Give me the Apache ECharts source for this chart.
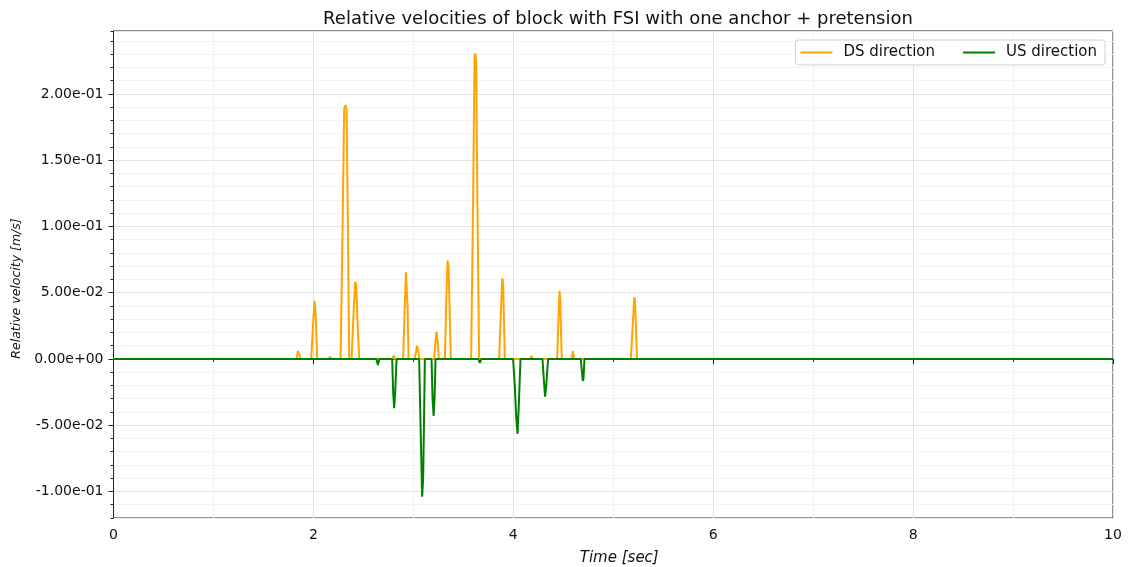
<!DOCTYPE html>
<html>
<head>
<meta charset="utf-8">
<script src="https://cdn.jsdelivr.net/npm/echarts@6/dist/echarts.min.js"></script>
<style>
  html, body { margin: 0; padding: 0; background: #fff; }
  #chart { width: 1131px; height: 567px; }
</style>
</head>
<body>
<div id="chart"></div>
<script>
// Relative velocity samples [time (s), velocity (m/s)], downstream direction
const dsDirection = [
  [0, 0],
  [1.832, 0], [1.845, 0.006], [1.852, 0.0075], [1.862, 0.005], [1.875, 0],
  [1.978, 0], [1.998, 0.028], [2.012, 0.0438], [2.022, 0.034], [2.038, 0],
  [2.155, 0], [2.165, 0.0017], [2.175, 0],
  [2.272, 0], [2.292, 0.10], [2.308, 0.189], [2.32, 0.1917], [2.332, 0.188], [2.345, 0.10], [2.358, 0],
  [2.382, 0], [2.402, 0.035], [2.418, 0.0583], [2.428, 0.056], [2.44, 0.03], [2.458, 0],
  [2.79, 0], [2.802, 0.0025], [2.815, 0],
  [2.898, 0], [2.914, 0.04], [2.926, 0.0654], [2.934, 0.064], [2.942, 0.04], [2.952, 0],
  [3.015, 0], [3.03, 0.007], [3.038, 0.010], [3.046, 0.007], [3.062, 0],
  [3.208, 0], [3.222, 0.014], [3.232, 0.0206], [3.242, 0.014], [3.255, 0],
  [3.315, 0], [3.33, 0.045], [3.342, 0.0742], [3.352, 0.07], [3.362, 0.04], [3.375, 0],
  [3.578, 0], [3.598, 0.12], [3.612, 0.228], [3.62, 0.2307], [3.628, 0.225], [3.642, 0.11], [3.658, 0],
  [3.858, 0], [3.876, 0.035], [3.89, 0.0609], [3.898, 0.058], [3.905, 0.035], [3.915, 0],
  [4.17, 0], [4.182, 0.0023], [4.195, 0],
  [4.438, 0], [4.452, 0.03], [4.462, 0.0515], [4.47, 0.045], [4.476, 0.025], [4.485, 0],
  [4.585, 0], [4.594, 0.006], [4.6, 0.0068], [4.606, 0.005], [4.612, 0],
  [5.175, 0], [5.195, 0.025], [5.21, 0.0466], [5.218, 0.044], [5.226, 0.025], [5.238, 0],
  [10, 0]
];

// Relative velocity samples [time (s), velocity (m/s)], upstream direction
const usDirection = [
  [0, 0],
  [2.63, 0], [2.645, -0.0045], [2.66, 0],
  [2.788, 0], [2.798, -0.025], [2.808, -0.0372], [2.818, -0.025], [2.832, 0],
  [3.058, 0], [3.072, -0.05], [3.088, -0.1039], [3.098, -0.09], [3.108, -0.04], [3.115, 0],
  [3.182, 0], [3.192, -0.03], [3.203, -0.043], [3.212, -0.03], [3.222, 0],
  [3.65, 0], [3.665, -0.003], [3.68, 0],
  [3.998, 0], [4.015, -0.02], [4.03, -0.045], [4.042, -0.0566], [4.055, -0.035], [4.072, 0],
  [4.292, 0], [4.305, -0.015], [4.318, -0.0285], [4.33, -0.02], [4.348, 0],
  [4.675, 0], [4.687, -0.01], [4.695, -0.0166], [4.702, -0.015], [4.712, 0],
  [10, 0]
];

// Labelled y ticks
const yMajorTicks = [-0.1, -0.05, 0, 0.05, 0.1, 0.15, 0.2];
const xLimits = [0, 10];
const yLimits = [-0.12, 0.2475];

function sciLabel(v) {
  const s = Number(v).toExponential(2);
  const parts = s.split('e');
  let exp = parseInt(parts[1], 10);
  const sign = exp < 0 ? '-' : '+';
  exp = Math.abs(exp);
  return parts[0] + 'e' + sign + (exp < 10 ? '0' + exp : String(exp));
}

const FONT = 'DejaVu Sans';
const MAJOR_GRID = '#e3e3e3';
const MINOR_GRID = '#f3f3f3';
const FRAME = '#222';

const chart = echarts.init(document.getElementById('chart'), null, { renderer: 'canvas' });

chart.setOption({
  animation: false,
  backgroundColor: '#fff',
  title: {
    text: 'Relative velocities of block with FSI with one anchor + pretension',
    left: 613,
    textAlign: 'center',
    top: 5,
    textStyle: { fontFamily: FONT, fontSize: 18, fontWeight: 'normal', color: '#111' }
  },
  legend: {
    right: 26,
    top: 40,
    orient: 'horizontal',
    backgroundColor: '#fff',
    borderColor: '#d0d0d0',
    borderWidth: 1,
    borderRadius: 3,
    padding: [5, 8, 5, 5],
    itemWidth: 32,
    itemHeight: 2,
    itemGap: 28,
    textStyle: { fontFamily: FONT, fontSize: 15, color: '#111', padding: [0, 0, 0, 6] },
    data: [
      { name: 'DS direction', icon: 'rect' },
      { name: 'US direction', icon: 'rect' }
    ]
  },
  grid: {
    left: 113.5,
    right: 18,
    top: 31,
    bottom: 49,
    show: true,
    borderColor: FRAME,
    borderWidth: 1,
    containLabel: false,
    outerBoundsMode: 'none'
  },
  xAxis: [{
    type: 'value',
    min: xLimits[0],
    max: xLimits[1],
    interval: 2,
    name: 'Time [sec]',
    nameLocation: 'middle',
    nameGap: 33,
    nameTextStyle: { fontFamily: FONT, fontSize: 15, fontStyle: 'italic', color: '#111', padding: [0, 0, 0, 12] },
    axisLine: { show: true, lineStyle: { color: FRAME, width: 1 } },
    axisTick: { show: true, inside: false, length: 5, lineStyle: { color: FRAME } },
    minorTick: { show: true, splitNumber: 2, length: 3, lineStyle: { color: FRAME } },
    axisLabel: { fontFamily: FONT, fontSize: 14, color: '#111', margin: 10 },
    splitLine: { show: true, lineStyle: { color: MAJOR_GRID, width: 1 } },
    minorSplitLine: { show: true, lineStyle: { color: MINOR_GRID, width: 1 } }
  }],
  yAxis: [{
    type: 'value',
    min: yLimits[0],
    max: yLimits[1],
    interval: 0.01,
    name: 'Relative velocity [m/s]',
    nameLocation: 'middle',
    nameGap: 90,
    nameTextStyle: { fontFamily: FONT, fontSize: 12.5, fontStyle: 'italic', color: '#111', padding: [0, 28, 0, 0] },
    axisLine: { show: true, lineStyle: { color: FRAME, width: 1 } },
    axisTick: { show: true, inside: false, length: 3, lineStyle: { color: FRAME } },
    axisLabel: {
      customValues: yMajorTicks,
      fontFamily: FONT, fontSize: 14, color: '#111', margin: 10,
      formatter: sciLabel
    },
    splitLine: {
      show: true,
      lineStyle: { color: [MINOR_GRID, MINOR_GRID, MAJOR_GRID, MINOR_GRID, MINOR_GRID], width: 1 }
    }
  }, {
    // longer ticks at the labelled values
    type: 'value',
    position: 'left',
    min: yLimits[0],
    max: yLimits[1],
    axisLine: { show: false },
    axisTick: { show: true, inside: false, length: 5, customValues: yMajorTicks, lineStyle: { color: FRAME } },
    axisLabel: { show: false },
    splitLine: { show: false }
  }],
  series: [{
    name: 'DS direction',
    type: 'line',
    data: dsDirection,
    showSymbol: false,
    symbol: 'none',
    lineStyle: { color: '#FFA500', width: 2 },
    itemStyle: { color: '#FFA500' },
    z: 2
  }, {
    name: 'US direction',
    type: 'line',
    data: usDirection,
    showSymbol: false,
    symbol: 'none',
    lineStyle: { color: '#008000', width: 2 },
    itemStyle: { color: '#008000' },
    z: 3
  }]
});
</script>
</body>
</html>
